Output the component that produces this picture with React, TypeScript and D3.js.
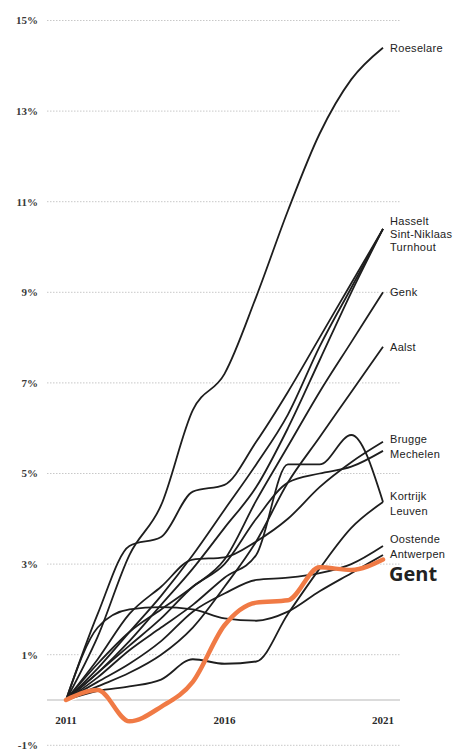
import React, { useEffect, useRef } from 'react';
import * as d3 from 'd3';

// population growth since 2011, in %
const years = [2011, 2012, 2013, 2014, 2015, 2016, 2017, 2018, 2019, 2020, 2021];
const yTicks = [-1, 1, 3, 5, 7, 9, 11, 13, 15];
const xTicks = [2011, 2016, 2021];

const roeselare = [0, 1.4, 3.2, 4.3, 6.4, 7.2, 8.9, 10.8, 12.5, 13.7, 14.4];
const hasselt = [0, 1.9, 3.4, 3.6, 4.6, 4.75, 5.7, 6.8, 8.0, 9.2, 10.4];
const sintNiklaas = [0, 0.7, 1.5, 2.3, 3.2, 4.2, 5.2, 6.3, 7.8, 9.1, 10.4];
const turnhout = [0, 0.6, 1.3, 2.1, 2.9, 3.8, 4.7, 6.0, 7.5, 9.0, 10.4];
const genk = [0, 0.8, 1.5, 2.0, 2.5, 3.1, 4.4, 5.6, 6.8, 7.9, 9.0];
const aalst = [0, 0.3, 0.6, 1.0, 1.6, 2.5, 3.5, 4.8, 5.8, 6.8, 7.8];
const brugge = [0, 0.9, 1.9, 2.5, 3.1, 3.15, 3.5, 4.0, 4.7, 5.25, 5.7];
const mechelen = [0, 0.6, 1.2, 1.8, 2.5, 3.0, 4.0, 4.8, 5.0, 5.15, 5.5];
const kortrijk = [0, 0.5, 1.1, 1.6, 2.1, 2.7, 3.2, 5.2, 5.2, 5.85, 4.37];
const leuven = [0, 0.2, 0.3, 0.45, 0.9, 0.8, 0.85, 1.9, 2.9, 3.8, 4.37];
const oostende = [0, 0.4, 0.8, 1.3, 1.95, 2.35, 2.65, 2.7, 2.8, 3.0, 3.4];
const antwerpen = [0, 1.6, 2.0, 2.05, 2.0, 1.8, 1.75, 1.95, 2.4, 2.8, 3.2];
const gent = [0, 0.22, -0.47, -0.15, 0.4, 1.65, 2.15, 2.2, 2.93, 2.87, 3.1];

const cities = [
  { name: 'Roeselare', values: roeselare },
  { name: 'Hasselt', values: hasselt },
  { name: 'Sint-Niklaas', values: sintNiklaas },
  { name: 'Turnhout', values: turnhout },
  { name: 'Genk', values: genk },
  { name: 'Aalst', values: aalst },
  { name: 'Brugge', values: brugge },
  { name: 'Mechelen', values: mechelen },
  { name: 'Kortrijk', values: kortrijk },
  { name: 'Leuven', values: leuven },
  { name: 'Oostende', values: oostende },
  { name: 'Antwerpen', values: antwerpen },
];

const App = () => {
  const svgRef = useRef<SVGSVGElement | null>(null);

  useEffect(() => {
    const w = 461;
    const h = 750;
    const svg = d3.select(svgRef.current).attr('width', w).attr('height', h);
    svg.selectAll('*').remove();

    const x = d3.scaleLinear().domain([2011, 2021]).range([66, 383]);
    const y = d3.scaleLinear().domain([0, 15]).range([700, 20.5]);

    // dotted grid
    svg
      .append('g')
      .selectAll('line')
      .data(yTicks)
      .join('line')
      .attr('x1', 47)
      .attr('x2', 400)
      .attr('y1', (d) => y(d))
      .attr('y2', (d) => y(d))
      .attr('stroke', '#c8c8c8')
      .attr('stroke-width', 1)
      .attr('stroke-dasharray', '1.5,1.5');

    // zero line
    svg
      .append('line')
      .attr('x1', 47)
      .attr('x2', 400)
      .attr('y1', y(0))
      .attr('y2', y(0))
      .attr('stroke', '#cfcfcf')
      .attr('stroke-width', 1.5);

    svg
      .append('g')
      .selectAll('text')
      .data(yTicks)
      .join('text')
      .attr('x', 38)
      .attr('y', (d) => y(d))
      .attr('dy', '0.35em')
      .attr('text-anchor', 'end')
      .style('font-family', '"Liberation Serif", serif')
      .style('font-weight', 'bold')
      .style('font-size', '11px')
      .attr('fill', '#3a3a3a')
      .text((d) => `${d}%`);

    svg
      .append('g')
      .selectAll('text')
      .data(xTicks)
      .join('text')
      .attr('x', (d) => x(d))
      .attr('y', 724)
      .attr('text-anchor', 'middle')
      .style('font-family', '"Liberation Serif", serif')
      .style('font-weight', 'bold')
      .style('font-size', '11px')
      .attr('fill', '#2a2a2a')
      .text((d) => d);

    const line = d3
      .line<number>()
      .x((d, i) => x(years[i]))
      .y((d) => y(d))
      .curve(d3.curveMonotoneX);

    // white halos cut the grid under the lines
    svg
      .append('g')
      .selectAll('path')
      .data([...cities.map((c) => c.values), gent])
      .join('path')
      .attr('d', (d) => line(d))
      .attr('fill', 'none')
      .attr('stroke', '#fff')
      .attr('stroke-width', 5);

    svg
      .append('g')
      .selectAll('path')
      .data(cities)
      .join('path')
      .attr('d', (d) => line(d.values))
      .attr('fill', 'none')
      .attr('stroke', '#1e1e1e')
      .attr('stroke-width', 1.8);

    svg
      .append('path')
      .attr('d', line(gent))
      .attr('fill', 'none')
      .attr('stroke', '#f07a45')
      .attr('stroke-width', 4.5)
      .attr('stroke-linejoin', 'round')
      .attr('stroke-linecap', 'round');

    // end labels, shifted where names share an end point
    const shift = {
      Roeselare: 0,
      Hasselt: -8,
      'Sint-Niklaas': 5,
      Turnhout: 18,
      Genk: 0,
      Aalst: 0,
      Brugge: -3,
      Mechelen: 3,
      Kortrijk: -6,
      Leuven: 9,
      Oostende: -7,
      Antwerpen: -1,
    };
    svg
      .append('g')
      .selectAll('text')
      .data(cities)
      .join('text')
      .attr('x', 390)
      .attr('y', (d) => y(d.values[d.values.length - 1]) + shift[d.name])
      .attr('dy', '0.35em')
      .style('font-family', '"Liberation Sans", sans-serif')
      .style('font-size', '11px')
      .style('letter-spacing', '0.3px')
      .attr('fill', '#222')
      .text((d) => d.name);

    svg
      .append('text')
      .attr('x', 389)
      .attr('y', y(gent[gent.length - 1]) + 14)
      .attr('dy', '0.35em')
      .style('font-family', '"Open Sans", sans-serif')
      .style('font-weight', 'bold')
      .style('font-size', '20px')
      .attr('fill', '#222')
      .text('Gent');
  }, []);

  return (
    <React.Fragment>
      <svg ref={svgRef} style={{ position: 'absolute', left: 0, top: 0, background: '#fff' }}></svg>
    </React.Fragment>
  );
};

export default App;
